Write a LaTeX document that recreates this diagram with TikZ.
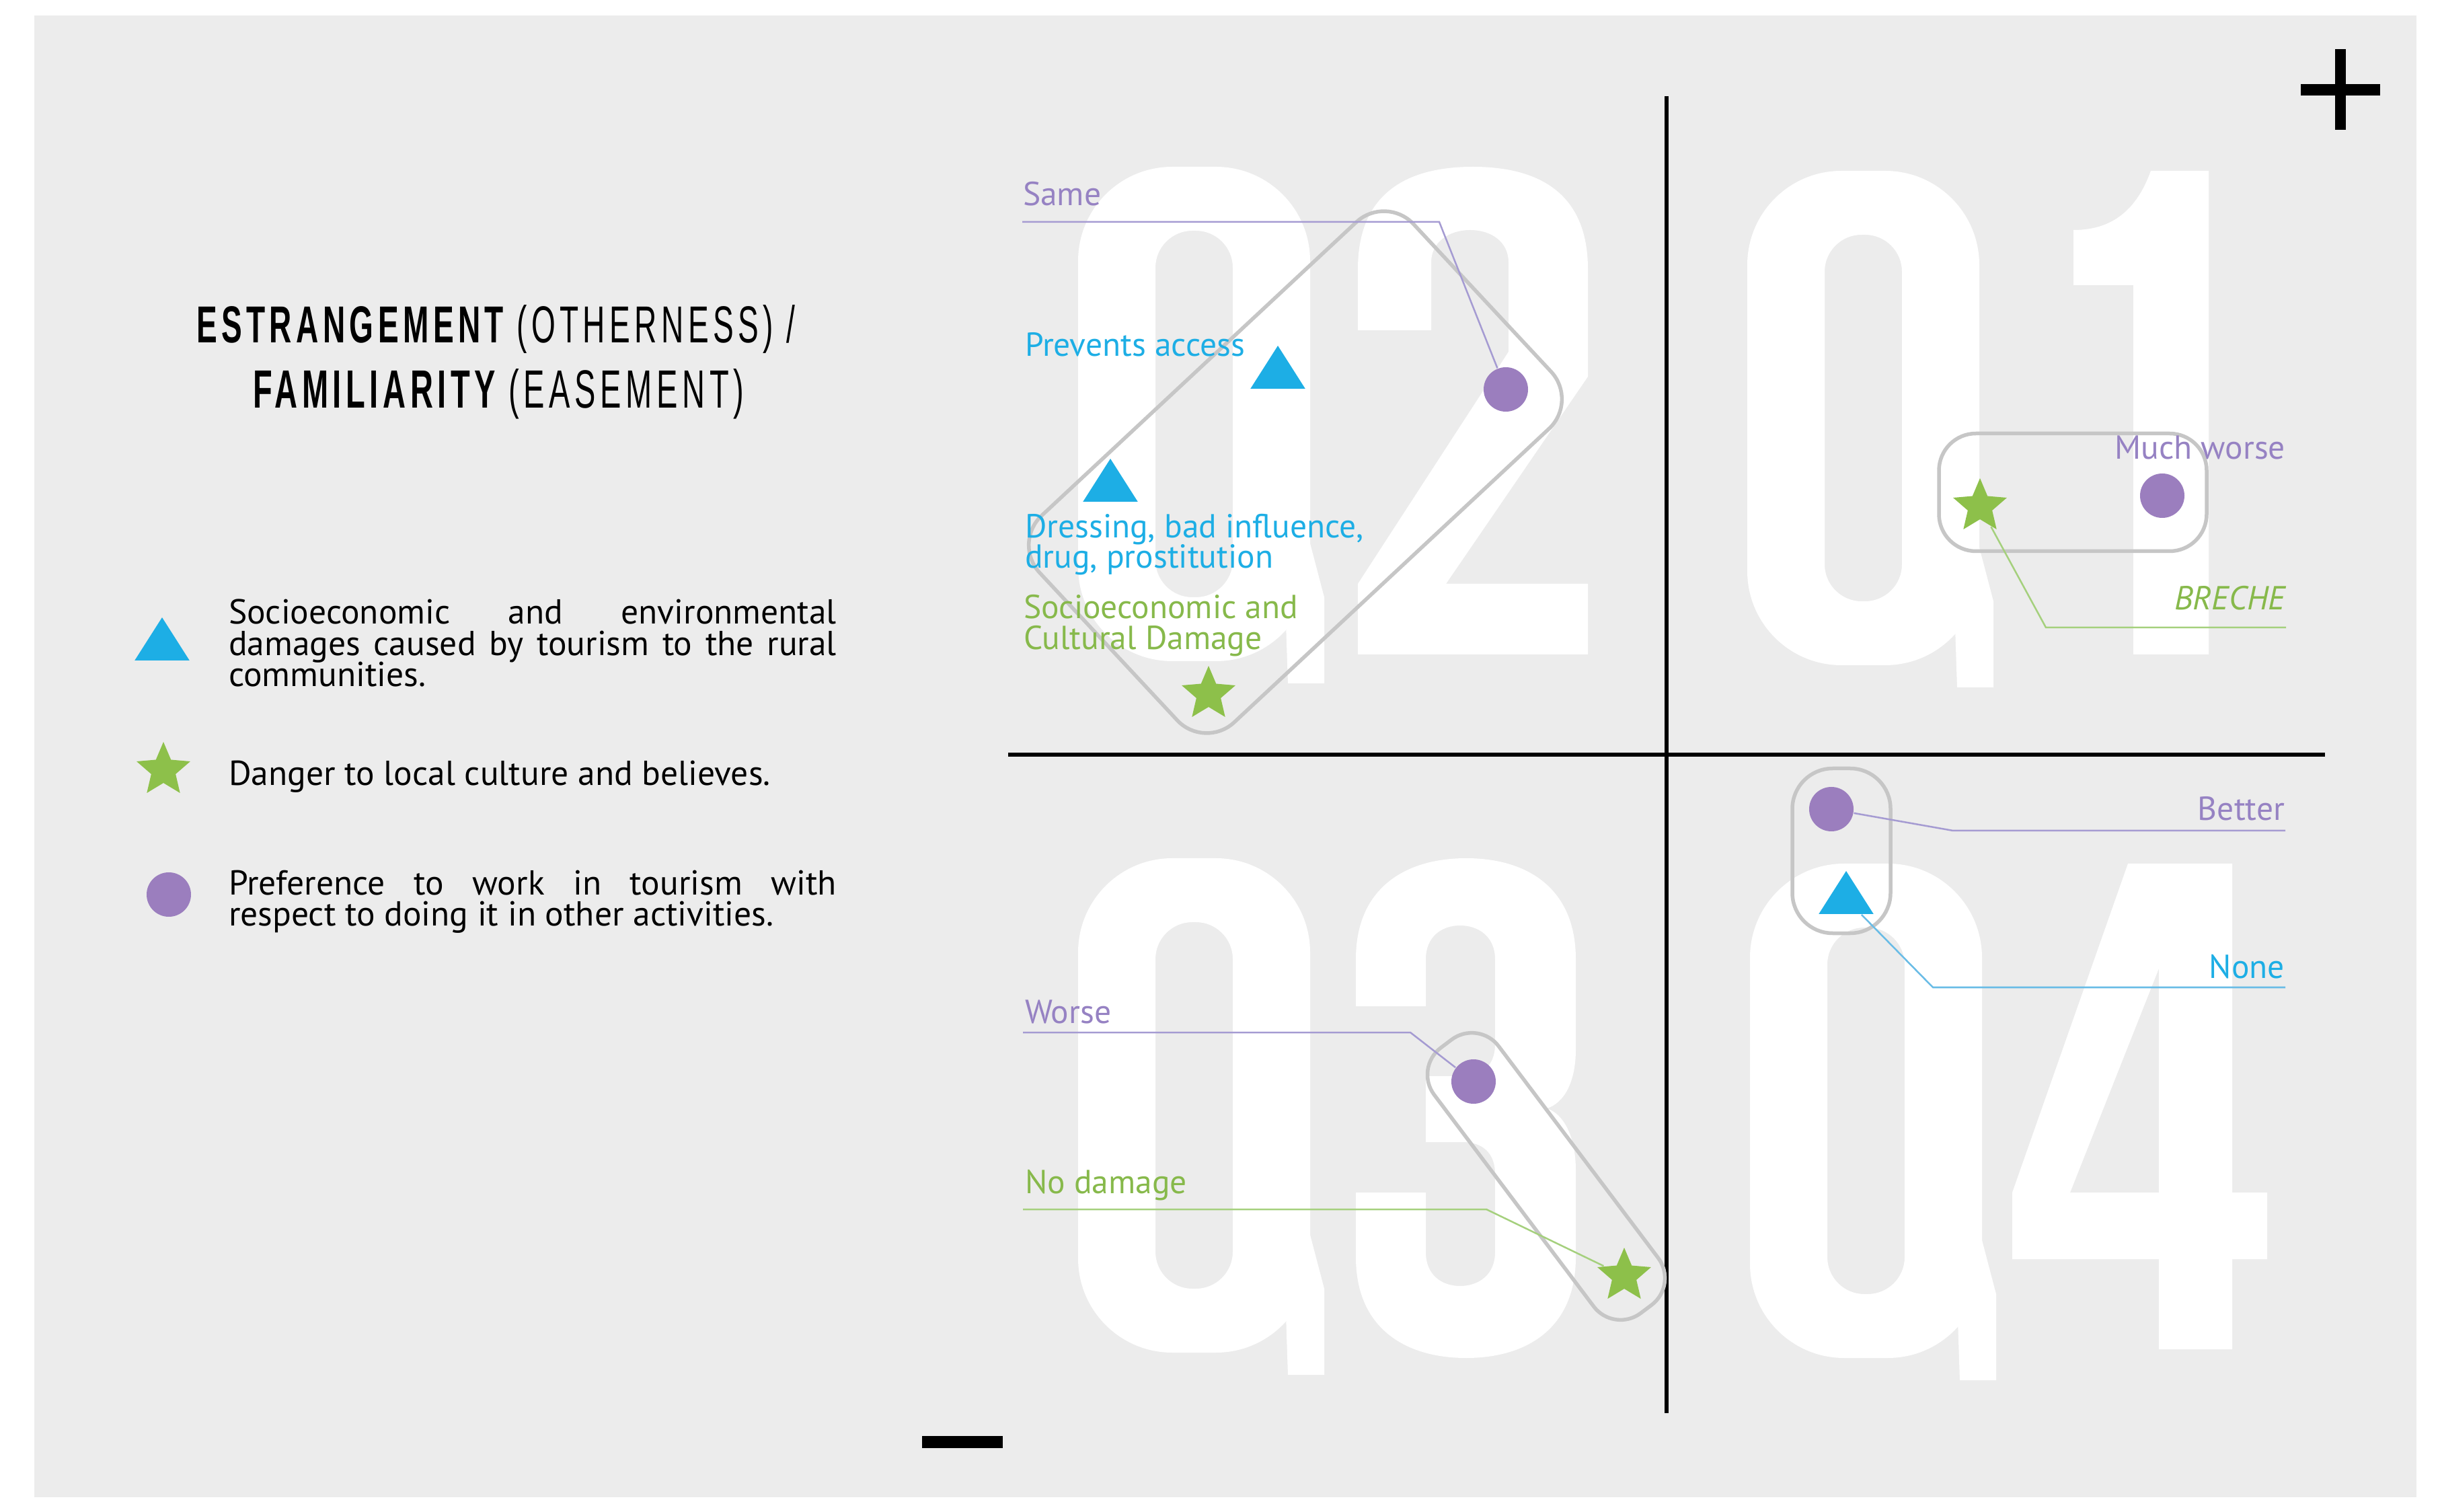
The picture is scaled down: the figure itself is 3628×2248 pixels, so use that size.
\documentclass[tikz,border=0pt]{standalone}
\usepackage{fontspec}
\usepackage{graphicx}
\setmainfont{PT Sans}
\newfontfamily\titlefont[LetterSpace=14]{Liberation Sans}
\usetikzlibrary{shapes.geometric}
\definecolor{pur}{RGB}{155,126,190}
\definecolor{purtxt}{RGB}{150,130,195}
\definecolor{cya}{RGB}{29,174,229}
\definecolor{gre}{RGB}{141,192,74}
\definecolor{gretxt}{RGB}{135,185,75}
\definecolor{bgc}{RGB}{236,236,236}
\definecolor{outl}{RGB}{198,198,198}
\definecolor{purln}{RGB}{165,155,210}
\definecolor{greln}{RGB}{165,208,125}
\definecolor{cyaln}{RGB}{105,188,230}
\newcommand\drawQglyph{%
  \fill[white, even odd rule, rounded corners=28pt] (0,0) rectangle (345,735) [rounded corners=11pt] (115,95) rectangle (230,640);
  \fill[white] (305,560) -- (345,560) -- (366,640) -- (366,768) -- (312,768) -- cycle;}
\begin{document}
\begin{tikzpicture}[x=0.2pt,y=-0.2pt,
  grp/.style={draw=outl, line width=1.1pt, rectangle, inner sep=0pt},
  circ/.style={circle, fill=pur, inner sep=0pt, minimum size=13.2pt},
  tri/.style={isosceles triangle, isosceles triangle apex angle=65, shape border rotate=90, fill=cya, inner sep=0pt, minimum width=12.8pt, minimum height=12.8pt, anchor=south},
  starn/.style={star, star points=5, star point ratio=2.2, fill=gre, inner sep=0pt, minimum size=16.8pt},
  lab/.style={inner sep=0pt, font=\fontsize{9.9pt}{11pt}\selectfont},
  leg/.style={inner sep=0pt, anchor=base west, font=\fontsize{10.3pt}{12pt}\selectfont, text=black},
  lead/.style={line width=0.5pt}]
\useasboundingbox (0,0) rectangle (3628,2248);
\fill[white] (0,0) rectangle (3628,2248);
\fill[bgc] (51,23) rectangle (3593,2226);
% big background glyphs
\begin{scope}[shift={(1603,248)}]\drawQglyph\end{scope}
\begin{scope}[shift={(2598,254)}]\drawQglyph\end{scope}
\begin{scope}[shift={(1603,1276)}]\drawQglyph\end{scope}
\begin{scope}[shift={(2602,1284)}]\drawQglyph\end{scope}
% 2
\fill[white] (2019,973) -- (2361,973) -- (2361,868) -- (2150,868) -- (2361,560) -- (2361,400)
  .. controls (2361,288) and (2289,248) .. (2190,248) .. controls (2091,248) and (2019,288) .. (2019,400)
  -- (2019,491) -- (2128,491) -- (2128,390) .. controls (2128,360) and (2154,342) .. (2186,342)
  .. controls (2218,342) and (2243,360) .. (2243,390) -- (2243,523) -- (2019,868) -- cycle;
% 1
\fill[white] (3172,973) -- (3284,973) -- (3284,254) -- (3198,254) .. controls (3175,318) and (3135,342) .. (3083,342) -- (3083,424) -- (3172,424) -- cycle;
% 3
\fill[white] (2016,1496) -- (2016,1426) .. controls (2016,1320) and (2090,1276) .. (2180,1276) .. controls (2270,1276) and (2343,1320) .. (2343,1426)
  -- (2343,1560) .. controls (2343,1610) and (2325,1640) .. (2300,1648) .. controls (2325,1656) and (2343,1690) .. (2343,1740)
  -- (2343,1869) .. controls (2343,1975) and (2270,2019) .. (2180,2019) .. controls (2090,2019) and (2016,1975) .. (2016,1869)
  -- (2016,1773) -- (2120,1773) -- (2120,1862) .. controls (2120,1895) and (2143,1912) .. (2171,1912) .. controls (2199,1912) and (2223,1895) .. (2223,1862)
  -- (2223,1745) .. controls (2223,1715) and (2205,1698) .. (2175,1698) -- (2120,1698) -- (2120,1600) -- (2175,1600)
  .. controls (2205,1600) and (2223,1583) .. (2223,1553) -- (2223,1426) .. controls (2223,1393) and (2199,1376) .. (2171,1376)
  .. controls (2143,1376) and (2120,1393) .. (2120,1426) -- (2120,1496) -- cycle;
% 4
\fill[white, even odd rule] (3164,1284) -- (3319,1284) -- (3319,1773) -- (3371,1773) -- (3371,1872) -- (3319,1872) -- (3319,2006) -- (3210,2006) -- (3210,1872) -- (2992,1872) -- (2992,1773) -- cycle
  (3078,1773) -- (3210,1773) -- (3210,1440) -- cycle;
% axes
\coordinate (yT) at (2478,143); \coordinate (yB) at (2478,2101);
\coordinate (xL) at (1499,1122); \coordinate (xR) at (3457,1122);
\draw[line width=1.3pt] (yT) -- (yB);
\draw[line width=1.3pt] (xL) -- (xR);
% plus / minus
\fill[black] (3421,125) rectangle (3539,142);
\fill[black] (3472,73) rectangle (3488,193);
\fill[black] (1371,2135) rectangle (1491,2153);
% group outlines
\node[grp, minimum width=152pt, minimum height=84pt, rounded corners=12pt, rotate=43] (g2) at (1926,702) {};
\node[grp, minimum width=79.6pt, minimum height=35pt, rounded corners=11pt] (g1) at (3082,732) {};
\node[grp, minimum width=29.2pt, minimum height=49pt, rounded corners=12pt] (g4) at (2738,1265) {};
\node[grp, minimum width=98.8pt, minimum height=24pt, rounded corners=10pt, rotate=-53] (g3) at (2299,1749) {};
% markers
\node[circ] (c2) at (2239,579) {};
\node[tri] (t2a) at (1900,579) {};
\node[tri] (t2b) at (1651,747) {};
\node[starn] (s2) at (1797,1032) {};
\node[starn] (s1) at (2944,753) {};
\node[circ] (c1) at (3215,737) {};
\node[circ] (c4) at (2723,1203) {};
\node[tri] (t4) at (2745,1360) {};
\node[circ] (c3) at (2191,1608) {};
\node[starn] (s3) at (2415,1897) {};
% labels
\node[lab, anchor=base west, text=purtxt] (lsame) at (1520,306) {Same};
\node[lab, anchor=base west, text=cya] (lprev) at (1523,530) {Prevents access};
\node[lab, anchor=base west, text=cya] (ldr1) at (1523,800) {Dressing, bad influence,};
\node[lab, anchor=base west, text=cya] (ldr2) at (1523,845) {drug, prostitution};
\node[lab, anchor=base west, text=gretxt] (lsc1) at (1521,920) {Socioeconomic and};
\node[lab, anchor=base west, text=gretxt] (lsc2) at (1521,966) {Cultural Damage};
\node[lab, anchor=base east, text=purtxt] (lmuch) at (3399,683) {Much worse};
\node[lab, anchor=base east, text=gretxt, font=\fontsize{9.9pt}{11pt}\selectfont\itshape] (lbre) at (3399,907) {BRECHE};
\node[lab, anchor=base east, text=purtxt] (lbet) at (3398,1220) {Better};
\node[lab, anchor=base east, text=cya] (lnone) at (3398,1455) {None};
\node[lab, anchor=base west, text=purtxt] (lwor) at (1523,1521) {Worse};
\node[lab, anchor=base west, text=gretxt] (lnod) at (1523,1774) {No damage};
% leaders
\coordinate (sameA) at (1520,330); \coordinate (sameB) at (2140,330);
\draw[lead, purln] (sameA) -- (sameB) -- (c2);
\coordinate (brA) at (3399,933); \coordinate (brB) at (3042,933);
\draw[lead, greln] (brA) -- (brB) -- (s1);
\coordinate (beA) at (3398,1235); \coordinate (beB) at (2904,1235);
\draw[lead, purln] (beA) -- (beB) -- (c4);
\coordinate (noA) at (3398,1468); \coordinate (noB) at (2874,1468);
\draw[lead, cyaln] (noA) -- (noB) -- (t4);
\coordinate (woA) at (1521,1535); \coordinate (woB) at (2097,1535);
\draw[lead, purln] (woA) -- (woB) -- (c3);
\coordinate (ndA) at (1521,1798); \coordinate (ndB) at (2210,1798);
\draw[lead, greln] (ndA) -- (ndB) -- (s3);
% title
\node[inner sep=0pt, anchor=base west] (tit1) at (291,510) {\resizebox{178pt}{11.2pt}{\titlefont\bfseries ESTRANGEMENT \mdseries(OTHERNESS) /}};
\node[inner sep=0pt, anchor=base west] (tit2) at (375,607) {\resizebox{146pt}{11.6pt}{\titlefont\bfseries FAMILIARITY \mdseries(EASEMENT)}};
% legend
\node[tri] (lt) at (241,983) {};
\node[starn] (ls) at (243,1145) {};
\node[circ] (lc) at (251,1330) {};
\node[leg] (lg1a) at (339,928) {\makebox[180.8pt][s]{Socioeconomic and environmental}};
\node[leg] (lg1b) at (339,975) {\makebox[180.8pt][s]{damages caused by tourism to the rural}};
\node[leg] (lg1c) at (339,1021) {communities.};
\node[leg] (lg2) at (339,1168) {Danger to local culture and believes.};
\node[leg] (lg3a) at (339,1331) {\makebox[180.8pt][s]{Preference to work in tourism with}};
\node[leg] (lg3b) at (339,1377) {respect to doing it in other activities.};
\end{tikzpicture}
\end{document}
